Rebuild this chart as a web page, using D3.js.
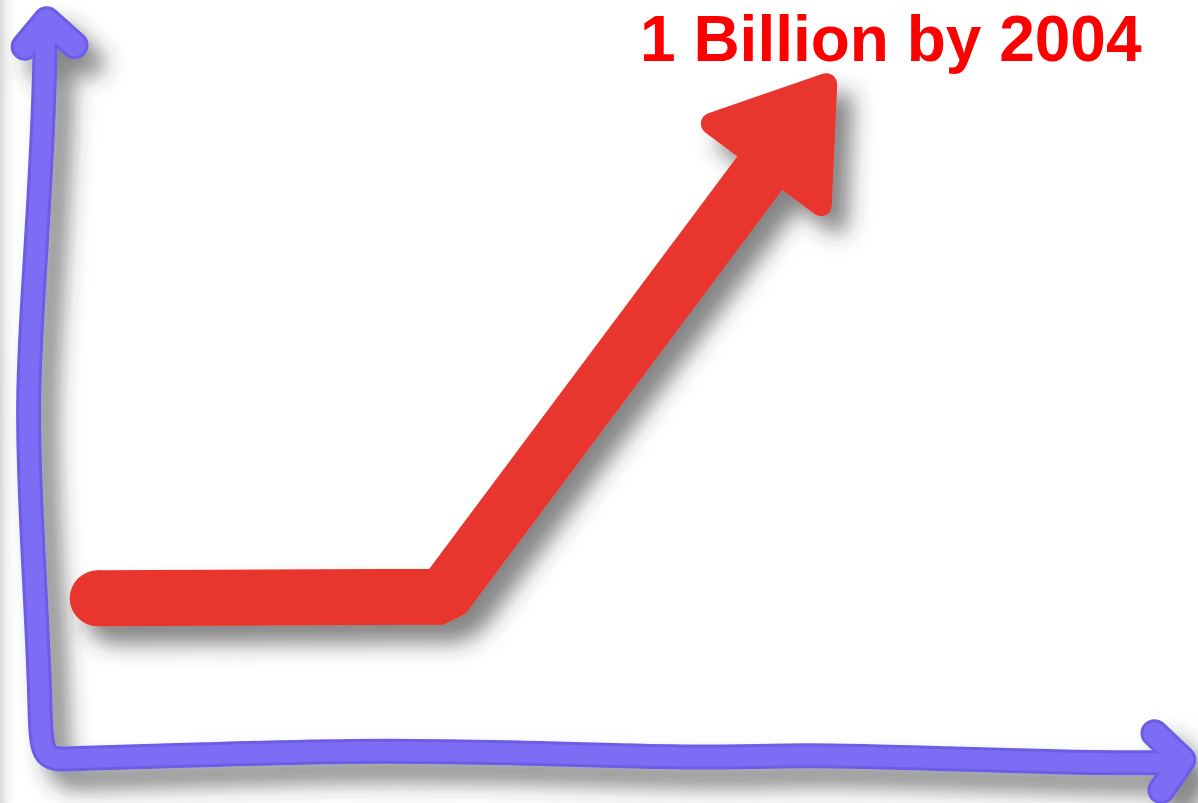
<!DOCTYPE html>
<head>
  <meta charset="utf-8">
  <title>1 Billion by 2004</title>
  <style>
  body {
    margin: 0;
    background: #fff;
  }

  .title {
    font: bold 64px "Liberation Sans", Arial, sans-serif;
    fill: #ff0000;
  }
  </style>
</head>

<svg id="vis1" class="chart"></svg>

<script src="https://cdn.jsdelivr.net/npm/d3@7"></script>

<script>
"use strict";

// the hand drawn axes, as points in chart units (0..100 on both axes)
var yAxisX = [2.2, 2.1, 1.4, 0.5, 1.1, 1.8, 1.7];
var yAxisY = [96.8, 87.2, 67.9, 48.7, 29.5, 10.3, 2.3];
var xAxisX = [4.3, 15.5, 28.4, 41.4, 58.6, 67.2, 80.2, 91.4, 99.8];
var xAxisY = [2.8, 3.2, 3.8, 3.6, 2.7, 3.3, 2.7, 2.2, 2.2];

// arrow heads of the axes
var yHeadX = [0.4, 2.3, 4.7];
var yHeadY = [94.0, 97.4, 94.2];
var xHeadX = [97.8, 100.2, 98.4];
var xHeadY = [6.0, 2.6, -1.3];

// the red trend: flat, then up to the target
var trendX = [6.7, 36.5, 69.5];
var trendY = [23.3, 23.5, 89.2];

var titleText = "1 Billion by 2004";

var totalWidth = 1198,
    totalHeight = 803;

var chart1 = d3.select("#vis1")
    .attr("width", totalWidth)
    .attr("height", totalHeight);

var x = d3.scaleLinear()
    .domain([0, 100])
    .range([20, 1180]);

var y = d3.scaleLinear()
    .domain([0, 100])
    .range([780, 0]);

var defs = chart1.append("defs");

// sombra borrada, como no desenho original
var shadow = defs.append("filter")
    .attr("id", "shadow")
    .attr("x", "-20%").attr("y", "-20%")
    .attr("width", "150%").attr("height", "150%");
shadow.append("feDropShadow")
    .attr("dx", 16)
    .attr("dy", 18)
    .attr("stdDeviation", 11)
    .attr("flood-color", "#333")
    .attr("flood-opacity", 0.6);

// leve sombreado na borda esquerda da folha
var edge = defs.append("linearGradient")
    .attr("id", "edge");
edge.append("stop").attr("offset", 0).attr("stop-color", "#d8d8d8");
edge.append("stop").attr("offset", 1).attr("stop-color", "#fff").attr("stop-opacity", 0);

chart1.append("rect")
    .attr("x", 0)
    .attr("y", 0)
    .attr("width", 18)
    .attr("height", totalHeight)
    .attr("fill", "url(#edge)");

var pts = function(xs, ys) {
  return xs.map(function(d, i) { return [x(d), y(ys[i])]; });
};

var sketch = d3.line().curve(d3.curveBasis);
var straight = d3.line();

// axes
var axes = chart1.append("g")
    .attr("filter", "url(#shadow)");

var axisPts = pts(yAxisX, yAxisY).concat(pts(xAxisX, xAxisY));

[["#6d5de6", 25], ["#7c6df4", 19]].forEach(function(s) {
  axes.append("path")
      .attr("d", sketch(axisPts))
      .attr("fill", "none")
      .attr("stroke", s[0])
      .attr("stroke-width", s[1])
      .attr("stroke-linecap", "round")
      .attr("stroke-linejoin", "round");

  [pts(yHeadX, yHeadY), pts(xHeadX, xHeadY)].forEach(function(h) {
    axes.append("path")
        .attr("d", straight(h))
        .attr("fill", "none")
        .attr("stroke", s[0])
        .attr("stroke-width", s[1] + 3)
        .attr("stroke-linecap", "round")
        .attr("stroke-linejoin", "round");
  });
});

// the red arrow
var red = "#e8352d";
var trend = chart1.append("g")
    .attr("filter", "url(#shadow)");

var tp = pts(trendX, trendY);
var tip = tp[tp.length - 1],
    prev = tp[tp.length - 2];
var len = Math.hypot(tip[0] - prev[0], tip[1] - prev[1]);
var ux = (tip[0] - prev[0]) / len,
    uy = (tip[1] - prev[1]) / len;
var headLen = 100,
    headHalf = 68;
var base = [tip[0] - ux * headLen, tip[1] - uy * headLen];
var shaftEnd = [tip[0] - ux * headLen * 0.6, tip[1] - uy * headLen * 0.6];

var shaft = tp.slice(0, -1).concat([shaftEnd]);

trend.append("path")
    .attr("d", straight(shaft))
    .attr("fill", "none")
    .attr("stroke", red)
    .attr("stroke-width", 56)
    .attr("stroke-linejoin", "bevel")
    .attr("stroke-linecap", "butt");

// round start of the stroke
trend.append("circle")
    .attr("cx", tp[0][0])
    .attr("cy", tp[0][1])
    .attr("r", 28)
    .attr("fill", red);

trend.append("path")
    .attr("d", straight([
        [base[0] - uy * headHalf, base[1] + ux * headHalf],
        tip,
        [base[0] + uy * headHalf, base[1] - ux * headHalf]
      ]) + "Z")
    .attr("fill", red)
    .attr("stroke", red)
    .attr("stroke-width", 22)
    .attr("stroke-linejoin", "round");

chart1.append("text")
    .attr("class", "title")
    .attr("x", 640)
    .attr("y", 61)
    .text(titleText);

</script>
